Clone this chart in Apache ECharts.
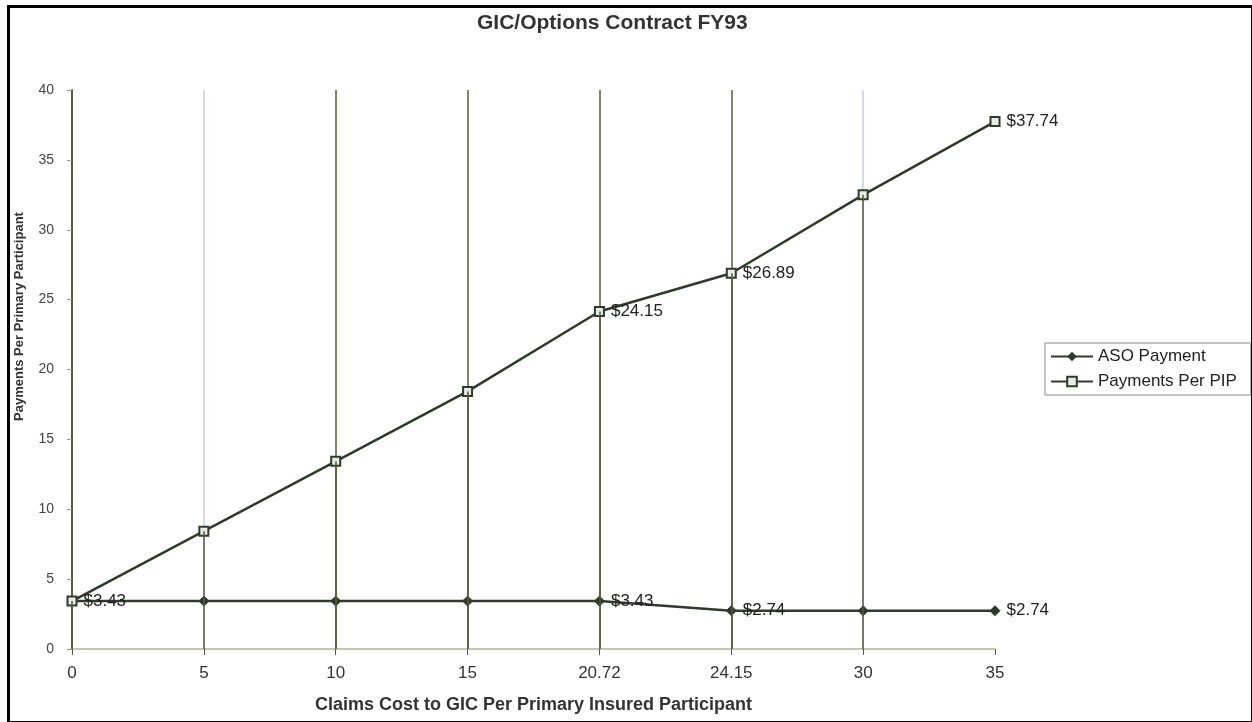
<!DOCTYPE html>
<html>
<head>
<meta charset="utf-8">
<script src="https://cdn.jsdelivr.net/npm/echarts@6/dist/echarts.min.js"></script>
<style>
html,body{margin:0;padding:0;background:#fff;}
#chart{width:1252px;height:722px;}
</style>
</head>
<body>
<div id="chart"></div>
<script>
// ---- data ----
const categories = ['0', '5', '10', '15', '20.72', '24.15', '30', '35'];
const asoPayment = [3.43, 3.43, 3.43, 3.43, 3.43, 2.74, 2.74, 2.74];
const pipPayment = [3.43, 8.43, 13.43, 18.43, 24.15, 26.89, 32.5, 37.74];
const asoLabels = [null, null, null, null, '$3.43', '$2.74', null, '$2.74'];
const pipLabels = ['$3.43', null, null, null, '$24.15', '$26.89', null, '$37.74'];
const yTicks = { min: 0, max: 40, interval: 5 };

const lineColor = '#2f3a2c';
const dark = '#5a5a3c';
const faint = '#c9c9ee';
const font = 'Liberation Sans, Arial, sans-serif';
// which categories get a drop line (style only)
const dropLineShown = [true, true, true, true, true, true, true, false];

const chart = echarts.init(document.getElementById('chart'));

function labelled(values, labels) {
  return values.map((v, i) => ({
    value: v,
    label: { show: labels[i] != null, formatter: labels[i] || '' }
  }));
}

const dropLines = pipPayment
  .map((v, i) => [{ coord: [i, v] }, { coord: [i, 0] }])
  .filter((d, i) => dropLineShown[i]);

chart.setOption({
  backgroundColor: '#fff',
  animation: false,
  textStyle: { fontFamily: font },
  title: {
    text: 'GIC/Options Contract FY93',
    left: 472, top: 8,
    textStyle: { fontFamily: font, fontSize: 21, fontWeight: 'bold', color: '#333' }
  },
  graphic: [{
    type: 'rect', left: 6, top: 4, z: 100, silent: true,
    shape: { width: 1244, height: 716 },
    style: { fill: 'none', stroke: '#000', lineWidth: 3 }
  }],
  legend: {
    orient: 'vertical', left: 1045, top: 343,
    padding: [5, 14, 5, 5], itemGap: 8,
    itemWidth: 42, itemHeight: 12,
    borderColor: '#888', borderWidth: 1,
    textStyle: { fontFamily: font, fontSize: 17, color: '#222' },
    data: ['ASO Payment', 'Payments Per PIP']
  },
  grid: { left: 72, right: 257, top: 90, bottom: 73 },
  xAxis: {
    type: 'category', boundaryGap: false, data: categories,
    name: 'Claims Cost to GIC Per Primary Insured Participant',
    nameLocation: 'middle', nameGap: 47,
    nameTextStyle: { fontFamily: font, fontSize: 18, fontWeight: 'bold', color: '#333' },
    axisLine: { lineStyle: { color: '#b3b39a', width: 1.5 } },
    axisTick: { show: true, alignWithLabel: true, length: 6, lineStyle: { color: dark } },
    axisLabel: { fontFamily: font, fontSize: 17, color: '#333', margin: 16 },
    splitLine: { show: true, lineStyle: { width: 1.5, color: [dark, faint, dark, dark, dark, dark, faint, 'rgba(0,0,0,0)'] } }
  },
  yAxis: {
    type: 'value', min: yTicks.min, max: yTicks.max, interval: yTicks.interval,
    name: 'Payments Per Primary Participant',
    nameLocation: 'middle', nameGap: 46, nameRotate: 90,
    nameTextStyle: { fontFamily: font, fontSize: 13, fontWeight: 'bold', color: '#333', padding: [0, 0, 0, 106] },
    axisLine: { show: true, lineStyle: { color: dark, width: 2 } },
    axisTick: { show: true, length: 5, lineStyle: { color: '#9a9a80' } },
    axisLabel: { fontFamily: font, fontSize: 14, color: '#444', margin: 18 },
    splitLine: { show: false }
  },
  series: [
    {
      name: 'ASO Payment', type: 'line',
      data: labelled(asoPayment, asoLabels),
      symbol: 'diamond', symbolSize: 10,
      lineStyle: { color: lineColor, width: 2.5 },
      itemStyle: { color: lineColor, borderColor: lineColor },
      label: { position: 'right', distance: 6, fontFamily: font, fontSize: 17, color: '#222' },
      z: 3
    },
    {
      name: 'Payments Per PIP', type: 'line',
      data: labelled(pipPayment, pipLabels),
      symbol: 'rect', symbolSize: 9, showAllSymbol: true,
      lineStyle: { color: lineColor, width: 2.5 },
      itemStyle: { color: '#e8ece4', borderColor: lineColor, borderWidth: 2 },
      label: { position: 'right', distance: 6, fontFamily: font, fontSize: 17, color: '#222' },
      markLine: {
        silent: true, symbol: 'none', animation: false,
        label: { show: false },
        lineStyle: { color: dark, width: 1.5, type: 'solid' },
        data: dropLines
      },
      z: 4
    }
  ]
});
</script>
</body>
</html>
